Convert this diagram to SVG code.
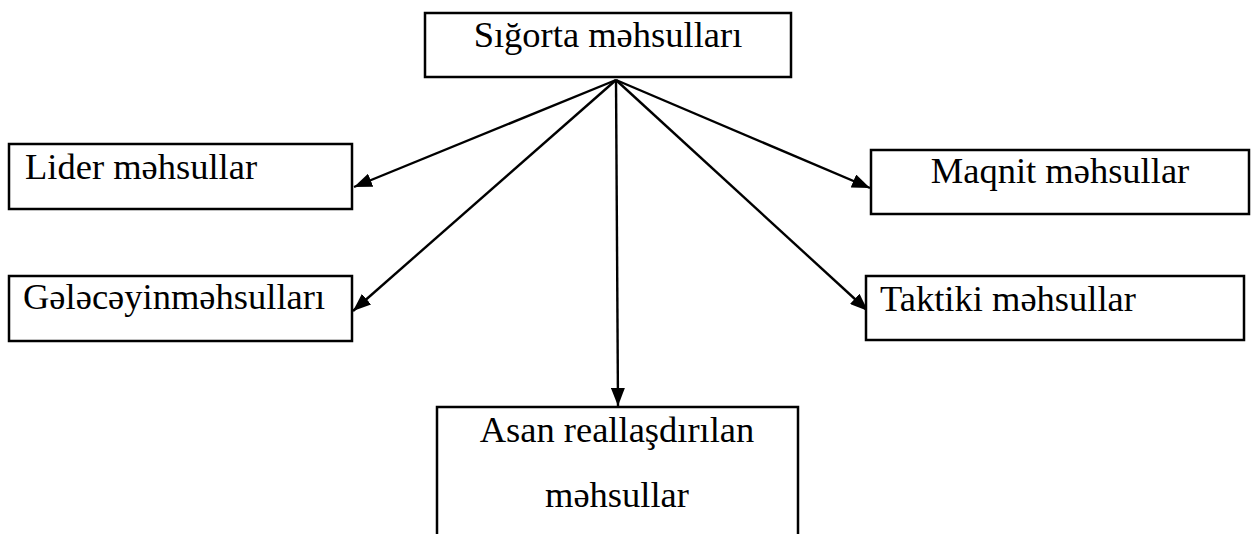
<svg xmlns="http://www.w3.org/2000/svg" width="1252" height="534" viewBox="0 0 1252 534">
  <style>
    .box { fill: #fff; stroke: #000; stroke-width: 2.5; }
    .lbl { font-family: "Liberation Serif", "Times New Roman", "DejaVu Serif", serif; font-size: 36.5px; fill: #000; }
    .mid { text-anchor: middle; }
    .edge { stroke: #000; stroke-width: 2.4; fill: none; marker-end: url(#arrow); }
  </style>
  <defs>
    <marker id="arrow" viewBox="0 0 18 14" refX="18" refY="7" markerWidth="18" markerHeight="14" markerUnits="userSpaceOnUse" orient="auto">
      <path d="M0,0 L18,7 L0,14 Z" fill="#000"/>
    </marker>
  </defs>
  <rect width="1252" height="534" fill="#fff"/>

  <g id="connectors">
    <line class="edge" x1="616" y1="80" x2="354" y2="187"/>
    <line class="edge" x1="616" y1="80" x2="353" y2="311"/>
    <line class="edge" x1="616" y1="80" x2="618" y2="406"/>
    <line class="edge" x1="616" y1="80" x2="868" y2="311"/>
    <line class="edge" x1="616" y1="80" x2="870" y2="188"/>
  </g>

  <g id="node-sigorta">
    <rect class="box" x="425" y="13" width="366" height="64"/>
    <text class="lbl mid" x="608" y="47">Sığorta məhsulları</text>
  </g>

  <g id="node-lider">
    <rect class="box" x="9" y="144" width="343" height="65"/>
    <text class="lbl" x="25" y="179">Lider məhsullar</text>
  </g>

  <g id="node-maqnit">
    <rect class="box" x="871" y="150" width="378" height="64"/>
    <text class="lbl mid" x="1060" y="183">Maqnit məhsullar</text>
  </g>

  <g id="node-gelecek">
    <rect class="box" x="9" y="276" width="343" height="65"/>
    <text class="lbl" x="23" y="309">Gələcəyinməhsulları</text>
  </g>

  <g id="node-taktiki">
    <rect class="box" x="866" y="276" width="378" height="64"/>
    <text class="lbl" x="880" y="311">Taktiki məhsullar</text>
  </g>

  <g id="node-asan">
    <rect class="box" x="437" y="407" width="361" height="140"/>
    <text class="lbl mid" x="617" y="442">Asan reallaşdırılan</text>
    <text class="lbl mid" x="617" y="507">məhsullar</text>
  </g>
</svg>
